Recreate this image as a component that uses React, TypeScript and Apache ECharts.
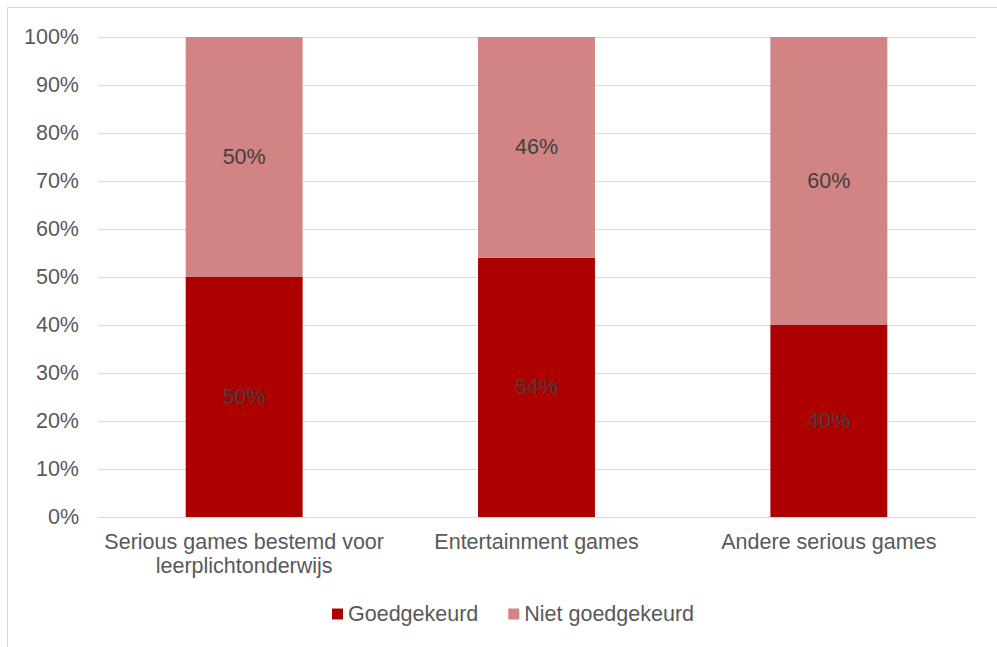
import React, { useEffect, useRef } from "react";
import * as echarts from "echarts";

const categories = ["Serious games bestemd voor\nleerplichtonderwijs", "Entertainment games", "Andere serious games"];
const goedgekeurd = [50, 54, 40];
const nietGoedgekeurd = [50, 46, 60];
const seriesNames = ["Goedgekeurd", "Niet goedgekeurd"];
const colors = ["#AD0000", "#D18483"];

export default function App() {
  const ref = useRef<HTMLDivElement>(null);
  useEffect(() => {
    document.body.style.margin = "0";
    const chart = echarts.init(ref.current!, null, { renderer: "svg" });
    const font = "'Liberation Sans', Arial, sans-serif";
    const fs = 21.5;
    const label = {
      show: true,
      position: "inside",
      formatter: "{c}%",
      color: "#404040",
      fontSize: fs,
      fontFamily: font,
    };
    chart.setOption({
      animation: false,
      backgroundColor: "#fff",
      textStyle: { fontFamily: font },
      graphic: [
        {
          type: "rect",
          shape: { x: 7.5, y: 7.5, width: 1200, height: 1000 },
          style: { fill: "none", stroke: "#d9d9d9", lineWidth: 1 },
          silent: true,
        },
      ],
      grid: { left: 98, right: 22, top: 37, bottom: 130, containLabel: false },
      legend: {
        data: seriesNames,
        top: 603,
        left: 332,
        padding: 0,
        itemWidth: 11,
        itemHeight: 11,
        itemGap: 30,
        icon: "rect",
        textStyle: { color: "#595959", fontSize: fs, fontFamily: font },
      },
      xAxis: {
        type: "category",
        data: categories,
        axisLine: { show: true, lineStyle: { color: "#d9d9d9", width: 1 } },
        axisTick: { show: false },
        axisLabel: { color: "#595959", fontSize: fs, fontFamily: font, margin: 13, lineHeight: 24, interval: 0 },
      },
      yAxis: {
        type: "value",
        min: 0,
        max: 100,
        interval: 10,
        axisLine: { show: false },
        axisTick: { show: false },
        axisLabel: { color: "#595959", fontSize: fs, fontFamily: font, margin: 19, formatter: "{value}%" },
        splitLine: { lineStyle: { color: "#d9d9d9", width: 1 } },
      },
      series: [
        {
          name: seriesNames[0],
          type: "bar",
          stack: "total",
          data: goedgekeurd,
          barWidth: "40%",
          itemStyle: { color: colors[0] },
          label,
        },
        {
          name: seriesNames[1],
          type: "bar",
          stack: "total",
          data: nietGoedgekeurd,
          barWidth: "40%",
          itemStyle: { color: colors[1] },
          label,
        },
      ],
    });
    return () => chart.dispose();
  }, []);
  return <div ref={ref} style={{ width: 997, height: 647 }} />;
}
